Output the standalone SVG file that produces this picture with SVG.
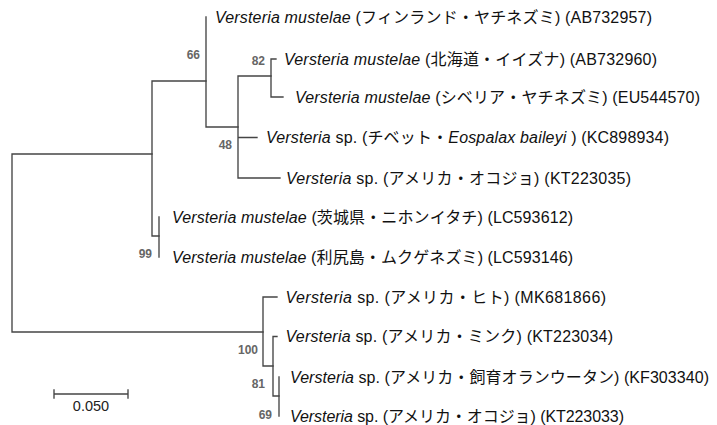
<svg xmlns="http://www.w3.org/2000/svg" width="717" height="425" viewBox="0 0 717 425">
<style>
.br{fill:none;stroke:#454545;stroke-width:1.35;stroke-linecap:square}
.lab{font-family:"Liberation Sans","Noto Sans CJK JP",sans-serif;font-size:16px;fill:#111}
.it{font-style:italic}
.bs{font-family:"Liberation Sans",Arial,sans-serif;font-size:12px;font-weight:bold;fill:#666;text-anchor:end}
.sc{font-family:"Liberation Sans",Arial,sans-serif;font-size:14.5px;fill:#222;text-anchor:middle}
</style>
<rect width="717" height="425" fill="#fff"/>
<g id="connectors">
<path class="br" d="M12,154 V332 M12,154 H152 M12,332 H263"/>
<path class="br" d="M152,81 V236 M152,81 H206 M152,236 H159"/>
<path class="br" d="M206,17 V127 M206,127 H238"/>
<path class="br" d="M238,76 V178 M238,76 H271 M238,137.5 H257 M238,178 H280"/>
<path class="br" d="M271,59 V97 M271,59 H276 M271,97 H283"/>
<path class="br" d="M159,217 V257"/>
<path class="br" d="M263,297 V366 M263,297 H277 M263,366 H273"/>
<path class="br" d="M273,336.5 V396 M273,336.5 H277 M273,396 H279"/>
<path class="br" d="M279,377 V416"/>
</g>
<g id="bootstrap">
<text class="bs" x="200" y="59">66</text>
<text class="bs" x="265" y="65">82</text>
<text class="bs" x="232" y="149">48</text>
<text class="bs" x="152" y="258">99</text>
<text class="bs" x="258" y="354">100</text>
<text class="bs" x="265" y="388">81</text>
<text class="bs" x="272" y="419">69</text>
</g>
<g id="leaf1"><text class="lab" x="215" y="23" textLength="437" lengthAdjust="spacing"><tspan class="it">Versteria mustelae</tspan> (フィンランド・ヤチネズミ) (AB732957)</text></g>
<g id="leaf2"><text class="lab" x="284" y="65" textLength="373" lengthAdjust="spacing"><tspan class="it">Versteria mustelae</tspan> (北海道・イイズナ) (AB732960)</text></g>
<g id="leaf3"><text class="lab" x="295" y="103" textLength="405" lengthAdjust="spacing"><tspan class="it">Versteria mustelae</tspan> (シベリア・ヤチネズミ) (EU544570)</text></g>
<g id="leaf4"><text class="lab" x="266" y="143" textLength="403" lengthAdjust="spacing"><tspan class="it">Versteria</tspan> sp. (チベット・<tspan class="it">Eospalax baileyi</tspan> ) (KC898934)</text></g>
<g id="leaf5"><text class="lab" x="286" y="184" textLength="345" lengthAdjust="spacing"><tspan class="it">Versteria</tspan> sp. (アメリカ・オコジョ) (KT223035)</text></g>
<g id="leaf6"><text class="lab" x="172" y="222.5" textLength="401" lengthAdjust="spacing"><tspan class="it">Versteria mustelae</tspan> (茨城県・ニホンイタチ) (LC593612)</text></g>
<g id="leaf7"><text class="lab" x="172" y="262.5" textLength="401" lengthAdjust="spacing"><tspan class="it">Versteria mustelae</tspan> (利尻島・ムクゲネズミ) (LC593146)</text></g>
<g id="leaf8"><text class="lab" x="285.5" y="302.5" textLength="320.5" lengthAdjust="spacing"><tspan class="it">Versteria</tspan> sp. (アメリカ・ヒト) (MK681866)</text></g>
<g id="leaf9"><text class="lab" x="285.5" y="342" textLength="327.5" lengthAdjust="spacing"><tspan class="it">Versteria</tspan> sp. (アメリカ・ミンク) (KT223034)</text></g>
<g id="leaf10"><text class="lab" x="290" y="382.5" textLength="419" lengthAdjust="spacing"><tspan class="it">Versteria</tspan> sp. (アメリカ・飼育オランウータン) (KF303340)</text></g>
<g id="leaf11"><text class="lab" x="290" y="421.5" textLength="334" lengthAdjust="spacing"><tspan class="it">Versteria</tspan> sp. (アメリカ・オコジョ) (KT223033)</text></g>
<g id="scalebar">
<path class="br" d="M54,394 H128 M54,390 V398 M128,390 V398"/>
<text class="sc" x="91" y="411">0.050</text>
</g>
</svg>
